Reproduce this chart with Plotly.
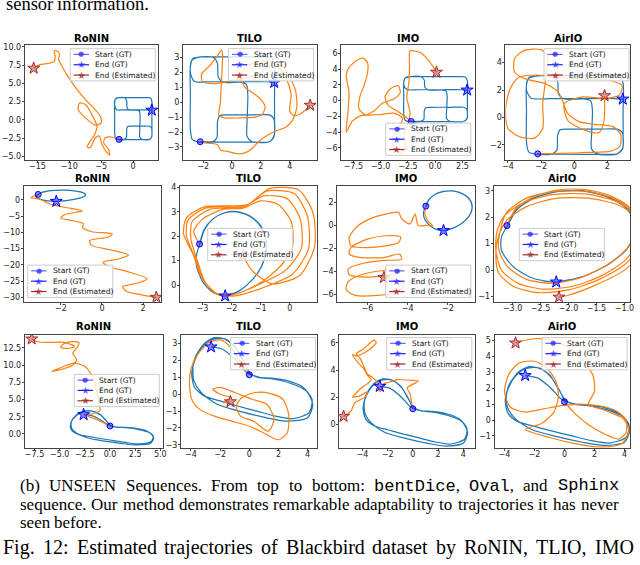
import plotly.graph_objects as go

W, H = 640, 565
BLUE = "#1f77b4"
ORANGE = "#ff7f0e"

# ---------------- data ----------------
titles = ["RoNIN", "TILO", "IMO", "AirIO"]
legend_labels = ["Start (GT)", "End (GT)", "End (Estimated)"]

# GT: bentDice
dice_gt_x = [-2.20, -0.50, 1.50, 2.60, 2.92, 2.95, 2.95, 2.95, 2.75, 2.00, 0.00, -2.00, -2.70, -2.88, -2.88, -2.88,
             -2.75, -2.30, -1.40, -1.05, -1.00, -0.85, -0.30, 1.50, 2.60, 2.90, 2.93, 2.60, 1.40, 1.05, 1.05, 1.10,
             1.00, 0.60, -0.60, -0.95, -1.00, -1.30, -2.20, -2.80, -2.88, -2.60, -1.50, 0.50, 2.40, 2.93]
dice_gt_y = [-2.65, -2.68, -2.68, -2.65, -2.30, -1.20, 0.50, 2.50, 3.00, 3.05, 3.05, 3.05, 2.95, 2.40, 0.50, -1.80,
             -2.50, -2.68, -2.68, -2.40, -1.30, -0.90, -0.85, -0.85, -0.85, -1.10, -2.20, -2.65, -2.65, -2.30, -1.20, 0.50,
             1.20, 1.35, 1.35, 1.70, 2.60, 3.02, 3.05, 2.80, 2.00, 1.40, 1.38, 1.38, 1.38, 1.34]

ronin_dice_x = [-2.2, -3.33, -4.37, -4.62, -3.85, -3.69, -4.11, -4.88, -5.3, -5.92, -6.7, -7.21, -6.7, -6.02, -5.66,
                -6.33, -7.47, -8.4, -8.6, -7.47, -5.92, -4.99, -5.14, -6.17, -7.47, -8.76, -10.05, -10.98, -11.7, -11.5,
                -11.86, -12.38, -12.22, -12.38, -13.15, -14.7, -15.58]
ronin_dice_y = [-2.65, -2.33, -2.43, -3.11, -4.01, -4.78, -4.46, -3.33, -2.2, -2.43, -3.78, -3.69, -2.88, -1.97, -0.84,
                0.52, 2.1, 2.32, 1.42, 0.29, -0.7, -0.39, 0.52, 1.64, 2.78, 4.13, 5.71, 7.07, 8.34, 8.89,
                9.43, 9.43, 8.66, 7.98, 7.75, 7.53, 7.07]

tilo_dice_x = [-2.2, -1.6, -1.0, -0.8, -0.3, 0.3, 0.9, 1.4, 1.9, 2.5, 3.1, 3.7, 4.2, 4.5, 4.4, 3.9, 3.2, 2.2, 1.2, 0.6,
               0.9, 1.5, 2.0, 2.3, 2.1, 1.6, 0.5, -0.5, -0.9, -0.8, -0.75, -0.7, -0.65, -0.7, -1.1, -1.6, -2.1, -2.05,
               -1.3, -0.3, 0.8, 1.8, 2.6, 3.3, 3.8, 4.1, 4.0, 4.3, 4.7, 5.1, 5.42]
tilo_dice_y = [-2.64, -2.75, -2.85, -3.2, -3.3, -3.45, -3.4, -3.1, -2.6, -2.2, -1.9, -1.7, -1.2, -0.3, 0.8, 1.9, 2.6,
               2.8, 2.5, 1.9, 1.0, 0.6, 0.2, -0.3, -0.8, -1.0, -1.05, -1.05, -0.9, 0.0, 1.0, 2.0, 3.0, 3.5, 3.0, 2.4,
               1.9, 1.4, 1.25, 1.4, 1.6, 1.9, 2.4, 2.3, 1.5, 0.5, -0.6, -0.9, -0.8, -0.5, -0.2]

imo_dice_x = [-2.2, -2.8, -3.5, -4.3, -4.6, -4.1, -3.4, -3.2, -3.8, -4.8, -5.6, -6.4, -7.0, -6.9, -6.5, -6.2, -6.2,
              -6.6, -7.3, -8.0, -8.15, -7.9, -8.0, -8.15, -7.6, -6.8, -5.2, -3.8, -3.0, -3.3, -3.9, -3.8, -3.2, -2.7,
              -2.9, -2.6, -2.3, -2.6, -2.4, -2.35, -2.3, -1.4, -0.6, 0.12]
imo_dice_y = [-2.6, -2.0, -1.3, -0.6, 0.5, 1.5, 1.9, 1.0, 0.2, -0.3, -1.3, -1.8, -1.0, 0.5, 2.0, 3.5, 4.8, 5.4, 5.0,
              4.0, 3.2, 1.0, -1.5, -4.0, -2.6, -1.9, -1.8, -1.6, -2.2, -3.4, -4.7, -6.1, -6.7, -5.9, -4.6, -3.3,
              -1.6, 0.4, 2.4, 4.4, 6.3, 6.1, 5.1, 3.6]

airio_dice_x = [-2.2, -0.8, 0.8, 2.2, 2.75, 2.8, 2.3, 1.2, 0.3, -0.4, -0.7, -1.0, -1.8, -2.9, -3.6, -3.6, -3.0, -2.0,
                -1.6, -1.7, -1.9, -1.9, -2.4, -3.3, -4.0, -4.15, -3.9, -3.4, -2.3, -0.8, 0.8, 2.2, 2.9, 2.7, 1.8,
                0.5, -0.6, -0.4, 0.6, 1.5, 1.8, 1.83]
airio_dice_y = [-2.64, -2.62, -2.55, -2.45, -2.1, -1.2, -0.65, -0.5, -0.3, 0.3, 1.2, 1.9, 2.5, 2.8, 3.3, 4.3, 4.9,
                4.95, 4.4, 3.0, 1.0, -0.8, -1.5, -1.4, -0.8, 0.5, 2.0, 2.9, 3.1, 2.9, 2.8, 2.7, 2.3, 1.6, 1.4,
                1.5, 1.0, -0.2, -0.9, -1.1, -0.2, 1.59]

# GT: Oval
oval_gt_x = [-3.10, -2.95, -2.65, -2.25, -1.80, -1.35, -1.00, -0.83, -0.82, -0.98, -1.30, -1.75, -2.22, -2.65, -3.00,
             -3.20, -3.20, -3.08, -2.93, -2.63, -2.24, -1.79, -1.34, -0.99, -0.82, -0.81, -0.97, -1.29, -1.74, -2.22]
oval_gt_y = [1.68, 2.25, 2.70, 2.95, 3.00, 2.80, 2.40, 1.90, 1.35, 0.75, 0.20, -0.25, -0.45, -0.30, 0.15,
             0.75, 1.25, 1.72, 2.27, 2.71, 2.96, 3.01, 2.81, 2.41, 1.91, 1.36, 0.76, 0.21, -0.24, -0.45]

ronin_oval_x = [-3.1, -3.45, -3.0, -2.7, -2.3, -1.5, -0.95, -1.8, -2.0, -1.5, -0.9, -0.95, -0.5, 0.5, 0.3, -0.6,
                -0.5, 0.5, 1.3, 0.8, 0.05, 0.3, 1.2, 2.2, 1.8, 1.0, 1.2, 2.0, 2.64]
ronin_oval_y = [1.68, 0.7, 0.2, -0.8, -1.7, -2.6, -3.4, -4.5, -5.6, -6.3, -7.3, -8.5, -9.8, -10.5, -11.5, -12.5,
                -14.0, -15.5, -17.0, -18.2, -19.2, -20.5, -22.0, -24.3, -25.5, -26.8, -28.2, -29.3, -30.0]

tilo_oval_x = [-3.10, -3.30, -3.00, -2.30, -1.60, -1.00, -0.40, 0.05, 0.10, -0.30, -1.00, -1.80, -2.40, -2.90, -3.15,
               -3.40, -3.35, -2.75, -1.60, -0.90, -0.10, 0.35, 0.40, -0.15, -1.10, -1.95, -2.55, -3.00, -3.25,
               -3.55, -3.50, -2.90, -1.50, -0.80, 0.15, 0.60, 0.65, 0.10, -0.90, -1.90, -2.60, -3.05, -3.30,
               -3.65, -3.55, -2.95, -1.45, -0.70, 0.30, 0.80, 0.85, 0.35, -0.60, -1.30, -1.60]
tilo_oval_y = [1.68, 2.20, 2.70, 3.10, 3.15, 3.45, 3.30, 2.60, 1.60, 0.80, 0.10, -0.35, -0.42, 0.10, 0.90,
               1.90, 2.60, 3.10, 3.20, 3.65, 3.55, 2.75, 1.50, 0.60, 0.00, -0.40, -0.35, 0.25, 1.10,
               2.00, 2.65, 3.15, 3.25, 3.85, 3.75, 2.85, 1.50, 0.45, -0.10, -0.45, -0.30, 0.35, 1.20,
               2.10, 2.75, 3.20, 3.30, 3.95, 3.90, 2.95, 1.55, 0.40, 0.05, 0.60, 1.20]

imo_oval_x = [-3.10, -3.15, -3.00, -2.75, -3.10, -3.47, -3.63, -3.88, -4.29, -4.45, -5.10, -5.91, -6.56, -6.90, -6.81,
              -6.08, -5.10, -4.45, -4.35, -5.10, -6.00, -6.80, -6.90, -6.30, -5.20, -4.40, -4.30, -5.20, -6.20,
              -6.95, -6.90, -6.00, -4.80, -4.30, -5.30, -6.30, -6.95, -7.05, -6.60, -5.50, -4.50, -4.20, -4.60, -5.18]
imo_oval_y = [1.65, 1.00, 0.40, -0.05, 0.00, -0.03, 0.99, 0.13, 0.56, 1.13, 0.99, 0.55, -0.18, -1.05, -1.78,
              -1.93, -1.78, -1.49, -1.00, -0.90, -1.20, -1.90, -2.50, -2.80, -2.80, -2.50, -2.95, -3.05, -3.30,
              -3.80, -4.30, -4.50, -4.30, -3.90, -3.95, -4.30, -4.90, -5.60, -6.10, -6.10, -5.80, -5.20, -4.70, -4.54]

airio_oval_x = [-3.10, -2.95, -2.62, -2.20, -1.75, -1.30, -0.95, -0.80, -0.82, -1.00, -1.35, -1.80, -2.30, -2.75, -3.10, -3.25,
                -3.22, -3.10, -2.75, -2.25, -1.70, -1.20, -0.85, -0.72, -0.78, -1.00, -1.40, -1.90, -2.45, -2.90, -3.20, -3.30,
                -3.28, -3.15, -2.80, -2.30, -1.70, -1.15, -0.80, -0.68, -0.75, -1.00, -1.45, -2.00, -2.55, -3.00, -3.25, -3.30,
                -3.25, -3.10, -2.75, -2.25, -1.65, -1.10, -0.75, -0.62, -0.72, -1.00, -1.50, -2.00, -2.17]
airio_oval_y = [1.68, 2.30, 2.78, 3.02, 3.05, 2.85, 2.45, 1.90, 1.30, 0.70, 0.15, -0.30, -0.50, -0.35, 0.15, 0.80,
                1.50, 2.20, 2.72, 2.97, 2.98, 2.72, 2.25, 1.60, 0.95, 0.35, -0.20, -0.60, -0.72, -0.50, 0.00, 0.75,
                1.45, 2.05, 2.55, 2.85, 2.88, 2.60, 2.10, 1.45, 0.80, 0.20, -0.35, -0.75, -0.85, -0.60, -0.10, 0.60,
                1.30, 1.90, 2.40, 2.70, 2.72, 2.45, 1.95, 1.30, 0.60, 0.00, -0.55, -0.95, -1.02]

# GT: Sphinx
sphinx_gt_x = [0.00, -0.35, -0.90, -1.60, -2.40, -3.10, -3.70, -3.95, -3.75, -3.10, -2.00, -0.80, 0.50, 1.80, 3.00,
               4.10, 4.30, 3.70, 2.60, 1.50, 0.70, 0.10, -0.40, -1.00, -1.80, -2.70, -3.40, -3.85, -3.80, -3.30,
               -2.20, -0.50, 1.20, 2.60, 4.00, 4.35, 3.90, 2.80, 1.60, 0.60, -0.20, -0.90, -1.80, -2.62]
sphinx_gt_y = [1.15, 1.90, 2.70, 3.25, 3.35, 3.00, 2.20, 1.20, 0.40, -0.10, -0.40, -0.70, -1.00, -1.30, -1.45,
               -1.10, -0.30, 0.40, 0.80, 0.95, 1.00, 1.20, 1.95, 2.85, 3.30, 3.20, 2.60, 1.70, 0.80, 0.10,
               -0.60, -1.05, -1.40, -1.60, -1.40, -0.60, 0.20, 0.65, 0.90, 1.00, 1.30, 2.00, 2.65, 2.80]

ronin_sphinx_x = [0.0, -1.2, -2.5, -1.8, -1.0, -1.1, -1.3, -1.5, -2.0, -2.6, -3.6, -4.6, -5.8, -4.8, -3.8, -3.3, -3.7,
                  -3.2, -3.1, -3.8, -4.6, -4.9, -4.2, -3.5, -4.5, -6.0, -7.2, -7.78]
ronin_sphinx_y = [1.15, 2.0, 2.8, 2.9, 3.4, 4.5, 6.0, 7.7, 9.0, 9.9, 10.3, 9.8, 9.1, 9.4, 9.9, 10.8, 11.7,
                  12.7, 13.3, 13.4, 13.1, 12.6, 12.4, 12.7, 13.3, 13.3, 13.4, 13.8]

tilo_sphinx_x = [-0.12, -0.6, -1.2, -1.9, -2.7, -3.5, -4.0, -4.1, -3.9, -3.4, -2.4, -1.2, 0.0, 1.0, 2.0, 2.6, 2.7,
                 2.3, 1.4, 0.4, -0.5, -0.9, -0.6, 0.3, 1.3, 1.7, 1.2, 0.2, -1.0, -2.0, -2.5, -2.0, -1.3, -1.8, -1.29]
tilo_sphinx_y = [1.16, 1.9, 2.7, 3.2, 3.1, 2.4, 1.5, 0.5, -0.4, -0.9, -1.3, -1.6, -1.9, -2.3, -2.7, -2.3, -1.2,
                 -0.3, 0.05, 0.1, -0.2, -0.7, -1.3, -1.6, -2.2, -1.5, -0.6, -0.3, 0.1, 0.4, 0.3, 0.0, -0.2, -0.5, -0.45]

imo_sphinx_x = [0.0, -0.1, -0.2, -0.45, 0.1, 0.45, -0.3, -1.2, -1.9, -2.3, -2.6, -2.9, -3.2, -3.6, -3.9, -4.2, -4.5,
                -4.0, -3.5, -3.1, -2.9, -3.2, -3.8, -4.5, -4.8, -4.4, -3.9, -3.6, -3.3, -3.6, -4.2, -4.6, -4.8,
                -4.2, -3.6, -3.8, -4.6, -4.9, -5.3, -5.5]
imo_sphinx_y = [1.15, 1.6, 2.2, 2.7, 3.0, 3.2, 3.25, 3.3, 3.1, 3.0, 2.4, 3.2, 3.45, 3.7, 4.3, 4.9, 5.2,
                5.5, 5.9, 6.2, 6.05, 5.7, 5.3, 5.05, 5.15, 4.6, 4.1, 3.6, 3.3, 3.0, 2.6, 2.2, 2.0,
                2.1, 2.4, 2.0, 1.6, 1.0, 0.7, 0.59]

airio_sphinx_x = [0.00, 0.60, 1.60, 2.70, 3.60, 4.10, 4.10, 3.40, 2.30, 1.00, -0.20, -1.40, -2.60, -3.60, -4.00,
                  -3.70, -3.00, -2.00, -1.20, -0.60, -0.40, -0.70, -1.50, -2.60, -1.00, 0.80, 2.50, 3.80, 4.30,
                  3.90, 2.70, 1.60, 2.00, 1.90, 1.20, 0.20, -1.00, -2.20, -3.26]
airio_sphinx_y = [1.15, 0.50, -0.30, -0.90, -1.20, -0.80, 0.00, 0.60, 0.90, 1.00, 0.90, 0.70, 0.50, 0.80, 1.80,
                  2.90, 3.60, 3.70, 3.30, 2.50, 1.50, 0.50, -0.20, -0.60, -1.10, -1.50, -1.70, -1.50, -0.70,
                  0.10, 0.60, 1.00, 1.80, 2.80, 3.80, 4.60, 5.05, 5.10, 4.85]

gt_rows = [(dice_gt_x, dice_gt_y), (oval_gt_x, oval_gt_y), (sphinx_gt_x, sphinx_gt_y)]
est_rows = [
    [(ronin_dice_x, ronin_dice_y), (tilo_dice_x, tilo_dice_y), (imo_dice_x, imo_dice_y), (airio_dice_x, airio_dice_y)],
    [(ronin_oval_x, ronin_oval_y), (tilo_oval_x, tilo_oval_y), (imo_oval_x, imo_oval_y), (airio_oval_x, airio_oval_y)],
    [(ronin_sphinx_x, ronin_sphinx_y), (tilo_sphinx_x, tilo_sphinx_y), (imo_sphinx_x, imo_sphinx_y),
     (airio_sphinx_x, airio_sphinx_y)],
]

xticks = [
    [[-15, -10, -5, 0], [-2, 0, 2, 4], [-7.5, -5, -2.5, 0, 2.5], [-4, -2, 0, 2]],
    [[-2, 0, 2], [-3, -2, -1, 0], [-6, -4, -2], [-3, -2.5, -2, -1.5, -1]],
    [[-7.5, -5, -2.5, 0, 2.5, 5], [-4, -2, 0, 2, 4], [-4, -2, 0, 2, 4], [-4, -2, 0, 2, 4]],
]
yticks = [
    [[-5, -2.5, 0, 2.5, 5, 7.5, 10], [-3, -2, -1, 0, 1, 2, 3], [-6, -4, -2, 0, 2, 4, 6], [-2, 0, 2, 4]],
    [[-30, -25, -20, -15, -10, -5, 0], [0, 1, 2, 3, 4], [-6, -4, -2, 0, 2], [-1, 0, 1, 2, 3]],
    [[0, 2.5, 5, 7.5, 10, 12.5], [-3, -2, -1, 0, 1, 2, 3], [0, 2, 4, 6], [-1, 0, 1, 2, 3, 4, 5]],
]
xdec = [[0, 0, 1, 0], [0, 0, 0, 1], [1, 0, 0, 0]]
ydec = [[1, 0, 0, 0], [0, 0, 0, 0], [1, 0, 0, 0]]

# caption words; (text, monospace?) pieces per word
top_text = "sensor information."
cap_line1 = [[("(b)", 0)], [("UNSEEN", 0)], [("Sequences.", 0)], [("From", 0)], [("top", 0)], [("to", 0)],
             [("bottom:", 0)], [("bentDice", 1), (",", 0)], [("Oval", 1), (",", 0)], [("and", 0)], [("Sphinx", 1)]]
cap_line2 = "sequence. Our method demonstrates remarkable adaptability to trajectories it has never"
cap_line3 = "seen before."
fig_line = "Fig. 12: Estimated trajectories of Blackbird dataset by RoNIN, TLIO, IMO"

# ---------------- layout (pixels) ----------------
row_tb = [(43, 159), (185, 302), (335, 449)]
col_lr = [
    [(22, 157), (182, 317), (342, 477), (508, 634)],
    [(21, 160), (179, 317), (338, 477), (496, 634)],
    [(22, 162), (180, 317), (340, 477), (497, 634)],
]
xranges = [
    [[-16.98, 3.95], [-3.39, 5.86], [-8.61, 3.63], [-4.15, 3.37]],
    [[-3.8, 2.88], [-3.77, 0.92], [-7.49, -0.67], [-3.34, -0.9]],
    [[-8.47, 5.29], [-4.68, 4.61], [-5.84, 4.92], [-4.66, 4.37]],
]
yranges = [
    [[-5.45, 10.28], [-3.87, 3.87], [-7.53, 7.1], [-3.09, 5.31]],
    [[-31.4, 4.37], [-0.69, 4.07], [-6.66, 3.46], [-1.2, 3.19]],
    [[-2.02, 14.43], [-3.18, 3.53], [-1.73, 6.61], [-1.75, 5.375]],
]
legend_pos = [
    [(68, 47), (228, 47), (387, 122), (547, 47)],
    [(25, 265), (207, 228), (387, 265), (522, 228)],
    [(72, 375), (230, 338), (388, 338), (545, 338)],
]
title_y = [37, 178, 327]


def px(x):
    return x / W


def py(y):
    return 1 - y / H


def fmt(v, dec):
    s = f"{v:.1f}" if dec else f"{int(round(v))}"
    return s.replace("-", "\u2212")


# Times-compatible advance widths (per 1000 em) for justification of caption lines
TW = {" ": 250, "(": 333, ")": 333, ".": 250, ":": 278, ",": 250,
      "a": 444, "b": 500, "c": 444, "d": 500, "e": 444, "f": 333, "g": 500, "h": 500, "i": 278, "j": 278,
      "k": 500, "l": 278, "m": 778, "n": 500, "o": 500, "p": 500, "q": 500, "r": 333, "s": 389, "t": 278,
      "u": 500, "v": 500, "w": 722, "x": 500, "y": 500, "z": 444,
      "A": 722, "B": 667, "C": 667, "D": 722, "E": 611, "F": 556, "G": 722, "H": 722, "I": 333, "J": 389,
      "K": 722, "L": 611, "M": 889, "N": 722, "O": 722, "P": 556, "Q": 722, "R": 667, "S": 556, "T": 611,
      "U": 722, "V": 722, "W": 944, "X": 722, "Y": 722, "Z": 611}


def word_width(pieces, size):
    w = 0.0
    for t, mono in pieces:
        if mono:
            w += 0.6 * size * len(t)
        else:
            w += sum(TW.get(ch, 500) for ch in t) / 1000 * size
    return w


def word_html(pieces):
    out = ""
    for t, mono in pieces:
        out += f"<span style='font-family:Liberation Mono'>{t}</span>" if mono else t
    return out


fig = go.Figure()
layout = dict(width=W, height=H, margin=dict(l=0, r=0, t=0, b=0), paper_bgcolor="white",
              plot_bgcolor="white", showlegend=False)
shapes, annotations = [], []
tickfont = dict(family="DejaVu Sans", size=8, color="#222")

k = 0
for r in range(3):
    gx, gy = gt_rows[r]
    t, b = row_tb[r]
    for c in range(4):
        k += 1
        xa = "x" if k == 1 else f"x{k}"
        ya = "y" if k == 1 else f"y{k}"
        l, rr = col_lr[r][c]
        ex, ey = est_rows[r][c]
        common = dict(xaxis=xa, yaxis=ya, showlegend=False, hoverinfo="skip")
        fig.add_trace(go.Scatter(x=gx, y=gy, mode="lines",
                                 line=dict(color=BLUE, width=1.2, shape="spline", smoothing=0.7), **common))
        fig.add_trace(go.Scatter(x=ex, y=ey, mode="lines",
                                 line=dict(color=ORANGE, width=1.2, shape="spline", smoothing=0.7), **common))
        fig.add_trace(go.Scatter(x=[gx[0]], y=[gy[0]], mode="markers",
                                 marker=dict(symbol="circle", size=6, color="rgba(0,0,255,0.45)",
                                             line=dict(color="blue", width=1)), **common))
        fig.add_trace(go.Scatter(x=[gx[-1]], y=[gy[-1]], mode="markers",
                                 marker=dict(symbol="star", size=9, color="rgba(0,0,255,0.45)",
                                             line=dict(color="blue", width=1)), **common))
        fig.add_trace(go.Scatter(x=[ex[-1]], y=[ey[-1]], mode="markers",
                                 marker=dict(symbol="star", size=9, color="rgba(165,42,42,0.45)",
                                             line=dict(color="rgb(165,42,42)", width=1)), **common))
        axcommon = dict(showline=True, mirror=True, linecolor="#444", linewidth=1, ticks="outside",
                        ticklen=2, tickwidth=0.8, tickcolor="#444", showgrid=False, zeroline=False,
                        tickfont=tickfont, fixedrange=True)
        layout["xaxis" if k == 1 else f"xaxis{k}"] = dict(
            domain=[px(l), px(rr)], range=xranges[r][c], anchor=ya, ticklabelstandoff=-3,
            tickvals=xticks[r][c], ticktext=[fmt(v, xdec[r][c]) for v in xticks[r][c]], **axcommon)
        layout["yaxis" if k == 1 else f"yaxis{k}"] = dict(
            domain=[py(b), py(t)], range=yranges[r][c], anchor=xa, ticklabelstandoff=-1,
            tickvals=yticks[r][c], ticktext=[fmt(v, ydec[r][c]) for v in yticks[r][c]], **axcommon)
        annotations.append(dict(x=px((l + rr) / 2), y=py(title_y[r]), xref="paper", yref="paper",
                                text=f"<b>{titles[c]}</b>", showarrow=False, xanchor="center", yanchor="middle",
                                font=dict(family="DejaVu Sans", size=10, color="black")))
        lx, ly = legend_pos[r][c]
        shapes.append(dict(type="rect", xref="paper", yref="paper", x0=px(lx), x1=px(lx + 86),
                           y0=py(ly + 32.5), y1=py(ly), fillcolor="rgba(255,255,255,0.8)",
                           line=dict(color="#cccccc", width=1), layer="above"))
        glyphs = [("\u25CF", "rgba(40,40,255,0.75)", 7), ("\u2605", "rgba(40,40,255,0.75)", 10),
                  ("\u2605", "rgba(165,42,42,0.8)", 10)]
        lcols = ["rgba(0,0,255,0.6)", "rgba(0,0,255,0.9)", "rgb(165,42,42)"]
        for j in range(3):
            yy = ly + 5.8 + 10.4 * j
            shapes.append(dict(type="line", xref="paper", yref="paper", x0=px(lx + 3.4), x1=px(lx + 19),
                               y0=py(yy), y1=py(yy), line=dict(color=lcols[j], width=1.2), layer="above"))
            g, gc, gs = glyphs[j]
            annotations.append(dict(x=px(lx + 11.2), y=py(yy), xref="paper", yref="paper", text=g,
                                    showarrow=False, xanchor="center", yanchor="middle",
                                    font=dict(family="DejaVu Sans", size=gs, color=gc)))
            annotations.append(dict(x=px(lx + 23.4), y=py(yy), xref="paper", yref="paper",
                                    text=legend_labels[j], showarrow=False, xanchor="left", yanchor="middle",
                                    font=dict(family="DejaVu Sans", size=7.5, color="#111")))


# ---------------- caption text (justified word by word) ----------------
def add_line(words, x0, x1, yc, size, justify=True):
    widths = [word_width(wd, size) for wd in words]
    if justify and len(words) > 1:
        gap = (x1 - x0 - sum(widths)) / (len(words) - 1)
    else:
        gap = TW[" "] / 1000 * size
    x = x0
    for wd, w in zip(words, widths):
        annotations.append(dict(x=px(x), y=py(yc), xref="paper", yref="paper", text=word_html(wd),
                                showarrow=False, xanchor="left", yanchor="middle", borderpad=0, borderwidth=0,
                                font=dict(family="Liberation Serif", size=size, color="black")))
        x += w + gap


def plain(s):
    return [[(w, 0)] for w in s.split(" ")]


add_line(plain(top_text), 3, 0, 2.5, 18.5, justify=False)
add_line(cap_line1, 17, 622, 487, 17)
add_line(plain(cap_line2), 17, 622, 506, 17)
add_line(plain(cap_line3), 17, 0, 524, 17, justify=False)
add_line(plain(fig_line), 0, 637, 549, 20)

layout["shapes"] = shapes
layout["annotations"] = annotations
fig.update_layout(**layout)
fig.write_html("out.html", config={"displayModeBar": False},
               post_script="document.body.style.margin='0px';")
